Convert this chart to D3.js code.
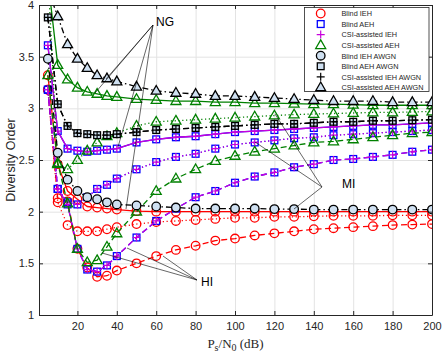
<!DOCTYPE html>
<html>
<head>
<meta charset="utf-8">
<script src="https://cdn.jsdelivr.net/npm/d3@7"></script>
<style>
body{margin:0;background:#fff}
text{font-family:"Liberation Sans",Arial,sans-serif}
</style>
</head>
<body>
<svg id="chart" width="443" height="352"></svg>
<script>
// SNR points (dB)
const snr = [5,10,15,20,25,30,35,40,50,60,70,80,90,100,110,120,130,140,150,160,170,180,190,200];

// Blind IEH (red)
const blindIEH_NG = [3.32,2.46,2.20,2.12,2.05,2.04,2.03,2.02,2.005,2.0,2.0,2.0,2.0,2.0,2.0,2.0,2.0,2.0,2.0,2.0,2.0,2.0,2.0,2.0];
const blindIEH_MI = [3.18,2.09,1.87,1.81,1.81,1.81,1.83,1.85,1.88,1.90,1.91,1.92,1.93,1.94,1.94,1.95,1.95,1.955,1.96,1.96,1.96,1.965,1.965,1.965];
const blindIEH_HI = [3.18,2.13,2.10,1.64,1.46,1.37,1.38,1.43,1.50,1.57,1.63,1.67,1.72,1.74,1.77,1.79,1.81,1.83,1.84,1.85,1.86,1.87,1.875,1.88];
// Blind AEH == CSI-assisted IEH (blue squares / magenta plus)
const blindAEH_NG = [3.61,2.78,2.61,2.59,2.58,2.59,2.60,2.61,2.67,2.70,2.72,2.73,2.75,2.77,2.78,2.79,2.80,2.81,2.82,2.83,2.84,2.84,2.85,2.86];
const blindAEH_MI = [3.18,2.22,2.09,2.07,2.14,2.22,2.26,2.32,2.41,2.48,2.53,2.56,2.61,2.65,2.67,2.69,2.71,2.72,2.74,2.75,2.76,2.77,2.78,2.79];
const blindAEH_HI = [3.18,2.22,2.07,1.64,1.44,1.42,1.48,1.57,1.75,1.91,2.03,2.14,2.20,2.28,2.34,2.38,2.43,2.46,2.50,2.51,2.53,2.55,2.58,2.60];
// CSI-assisted AEH (green)
const csiAEH_NG = [4.25,3.42,3.28,3.20,3.16,3.14,3.12,3.11,3.09,3.08,3.07,3.07,3.06,3.06,3.05,3.05,3.045,3.04,3.04,3.035,3.03,3.03,3.03,3.03];
const csiAEH_MI = [4.3,2.46,2.41,2.50,2.59,2.67,2.73,2.76,2.83,2.87,2.88,2.89,2.90,2.91,2.92,2.93,2.94,2.945,2.95,2.955,2.96,2.96,2.965,2.97];
const csiAEH_HI = [3.32,2.47,2.08,1.64,1.51,1.53,1.66,1.79,2.00,2.20,2.32,2.41,2.49,2.54,2.58,2.61,2.64,2.67,2.68,2.70,2.72,2.74,2.76,2.77];
// AWGN
const blindIEH_AWGN = [3.48,2.57,2.31,2.20,2.14,2.12,2.09,2.07,2.06,2.05,2.04,2.03,2.03,2.03,2.03,2.025,2.025,2.02,2.02,2.02,2.02,2.02,2.02,2.02];
const blindAEH_AWGN = [3.88,3.04,2.83,2.76,2.75,2.74,2.74,2.75,2.77,2.79,2.80,2.81,2.82,2.83,2.84,2.85,2.85,2.86,2.87,2.87,2.88,2.88,2.885,2.89];
const csiAEH_AWGN = [4.15,3.89,3.62,3.48,3.39,3.32,3.29,3.26,3.21,3.17,3.15,3.14,3.12,3.12,3.11,3.10,3.09,3.08,3.07,3.07,3.07,3.06,3.06,3.06];

const legendNames = ["Blind IEH","Blind AEH","CSI-assisted IEH","CSI-assisted AEH",
  "Blind IEH AWGN","Blind AEH AWGN","CSI-assisted IEH AWGN","CSI-assisted AEH AWGN"];
const xTicks = [20,40,60,80,100,120,140,160,180,200];
const yTicks = [1,1.5,2,2.5,3,3.5,4];

const RED='#ff0000', BLUE='#0000ff', MAG='#c800dc', GREEN='#008000', BLK='#000000', LFILL='#cfe0f1';
const DOT='1.2,2.6', DASH='6,3.5', DASHDOT='6,3,1.5,3';

// marker styles per scheme
const marks = [
  {mark:'circle', stroke:RED, fill:'none'},
  {mark:'square', stroke:BLUE, fill:'none'},
  {mark:'plus', stroke:MAG, fill:'none'},
  {mark:'triangle', stroke:GREEN, fill:'none'},
  {mark:'circle', stroke:BLK, fill:LFILL},
  {mark:'square', stroke:BLK, fill:LFILL},
  {mark:'plus', stroke:BLK, fill:'none'},
  {mark:'triangle', stroke:BLK, fill:LFILL}
];

const series = [
  {v:blindIEH_NG, m:0, color:RED, dash:null},
  {v:blindIEH_MI, m:0, color:RED, dash:DOT},
  {v:blindIEH_HI, m:0, color:RED, dash:DASH},
  {v:blindAEH_NG, m:1, color:BLUE, dash:null},
  {v:blindAEH_MI, m:1, color:BLUE, dash:DOT},
  {v:blindAEH_HI, m:1, color:BLUE, dash:DASH},
  {v:blindAEH_NG, m:2, color:MAG, dash:null},
  {v:blindAEH_MI, m:2, color:MAG, dash:DOT},
  {v:blindAEH_HI, m:2, color:MAG, dash:DASH},
  {v:csiAEH_NG, m:3, color:GREEN, dash:null},
  {v:csiAEH_MI, m:3, color:GREEN, dash:DOT},
  {v:csiAEH_HI, m:3, color:GREEN, dash:DASH},
  {v:blindIEH_AWGN, m:4, color:BLK, dash:DASHDOT},
  {v:blindAEH_AWGN, m:5, color:BLK, dash:DASHDOT},
  {v:blindAEH_AWGN, m:6, color:BLK, dash:DASHDOT},
  {v:csiAEH_AWGN, m:7, color:BLK, dash:DASHDOT}
];

const L=39, R=432, T=5, B=315;
const svg = d3.select('#chart');
const x = d3.scaleLinear().domain([0.5,200]).range([L,R]);
const y = d3.scaleLinear().domain([1,4]).range([B,T]);

svg.append('defs').append('clipPath').attr('id','clip')
  .append('rect').attr('x',L).attr('y',T).attr('width',R-L).attr('height',B-T);

// grid
svg.append('g').attr('transform',`translate(0,${B})`)
  .call(d3.axisBottom(x).tickValues(xTicks).tickSize(-(B-T)).tickFormat(''))
  .call(g=>{g.select('.domain').remove(); g.selectAll('line').attr('stroke','#e3e3e3');});
svg.append('g').attr('transform',`translate(${L},0)`)
  .call(d3.axisLeft(y).tickValues(yTicks).tickSize(-(R-L)).tickFormat(''))
  .call(g=>{g.select('.domain').remove(); g.selectAll('line').attr('stroke','#e3e3e3');});

// curves
const plot = svg.append('g').attr('clip-path','url(#clip)');
const line = d3.line().x((d,i)=>x(snr[i])).y(d=>y(d));

function drawMark(g, type, cx, cy, stroke, fill){
  if(type==='circle'){
    g.append('circle').attr('cx',cx).attr('cy',cy).attr('r',4.3)
      .attr('fill',fill).attr('stroke',stroke).attr('stroke-width',1.3);
  } else if(type==='square'){
    g.append('rect').attr('x',cx-3.4).attr('y',cy-3.4).attr('width',6.8).attr('height',6.8)
      .attr('fill',fill).attr('stroke',stroke).attr('stroke-width',1.3);
  } else if(type==='plus'){
    g.append('path').attr('d',`M${cx-4},${cy}H${cx+4}M${cx},${cy-4}V${cy+4}`)
      .attr('stroke',stroke).attr('stroke-width',1.2).attr('fill','none');
  } else {
    g.append('path').attr('d',`M${cx},${cy-5.3}L${cx+5},${cy+3.4}L${cx-5},${cy+3.4}Z`)
      .attr('fill',fill).attr('stroke',stroke).attr('stroke-width',1.3).attr('stroke-linejoin','miter');
  }
}

series.forEach(s=>{
  const g = plot.append('g');
  g.append('path').datum(s.v).attr('d',line)
    .attr('fill','none').attr('stroke',s.color).attr('stroke-width',1.3)
    .attr('stroke-dasharray',s.dash);
  const mk = marks[s.m];
  s.v.forEach((d,i)=>drawMark(g, mk.mark, x(snr[i]), y(d), mk.stroke, mk.fill));
});

// axes
const AX='#262626';
const styleAxis = g=>{g.selectAll('path,line').attr('stroke',AX);
  g.selectAll('text').attr('fill','#262626').style('font-size','11px');};
svg.append('g').attr('transform',`translate(0,${B})`)
  .call(d3.axisBottom(x).tickValues(xTicks).tickSize(-4).tickSizeOuter(0).tickPadding(7))
  .call(styleAxis);
svg.append('g').attr('transform',`translate(${L},0)`)
  .call(d3.axisLeft(y).tickValues(yTicks).tickSize(-4).tickSizeOuter(0).tickPadding(5).tickFormat(d=>d))
  .call(styleAxis);
svg.append('g').attr('transform',`translate(0,${T})`)
  .call(d3.axisTop(x).tickValues(xTicks).tickSize(-4).tickSizeOuter(0).tickFormat(''))
  .call(styleAxis);
svg.append('g').attr('transform',`translate(${R},0)`)
  .call(d3.axisRight(y).tickValues(yTicks).tickSize(-4).tickSizeOuter(0).tickFormat(''))
  .call(styleAxis);

// axis titles
svg.append('text').attr('transform',`translate(15,${(T+B)/2}) rotate(-90)`)
  .attr('text-anchor','middle').style('font-size','12.5px').attr('fill','#262626').text('Diversity Order');
const xl = svg.append('text').attr('x',(L+R)/2).attr('y',348).attr('text-anchor','middle')
  .style('font-family','"Liberation Serif","Times New Roman",serif').style('font-size','13px').attr('fill','#262626');
xl.append('tspan').text('P');
xl.append('tspan').attr('dy',2.5).style('font-size','10px').text('s');
xl.append('tspan').attr('dy',-2.5).text('/N');
xl.append('tspan').attr('dy',2.5).style('font-size','10px').text('0');
xl.append('tspan').attr('dy',-2.5).text(' (dB)');

// annotations
const ann = svg.append('g').attr('stroke','#000').attr('stroke-width',0.6);
const groups = [
  {label:'NG', tx:156, ty:26, ax:153, ay:25, to:[[95,93],[106,79],[118,147],[126,209]]},
  {label:'MI', tx:342, ty:188, ax:322, ay:187, to:[[275,114],[255,142],[294,209]]},
  {label:'HI', tx:201, ty:286, ax:197, ay:280, to:[[163,256],[127,248],[102,253]]}
];
groups.forEach(gp=>{
  gp.to.forEach(p=>ann.append('line').attr('x1',gp.ax).attr('y1',gp.ay).attr('x2',p[0]).attr('y2',p[1]));
  svg.append('text').attr('x',gp.tx).attr('y',gp.ty).style('font-size','12px').attr('fill','#000').text(gp.label);
});

// legend
const lg = svg.append('g');
lg.append('rect').attr('x',304.5).attr('y',7.5).attr('width',124.5).attr('height',84)
  .attr('fill','#fff').attr('stroke',AX).attr('stroke-width',0.8);
legendNames.forEach((n,i)=>{
  const cy = 13.5 + i*10.55;
  const mk = marks[i];
  drawMark(lg, mk.mark, 320.7, cy, mk.stroke, mk.fill);
  lg.append('text').attr('x',341.5).attr('y',cy+2.8).style('font-size','7.3px').attr('fill','#262626').text(n);
});
</script>
</body>
</html>
